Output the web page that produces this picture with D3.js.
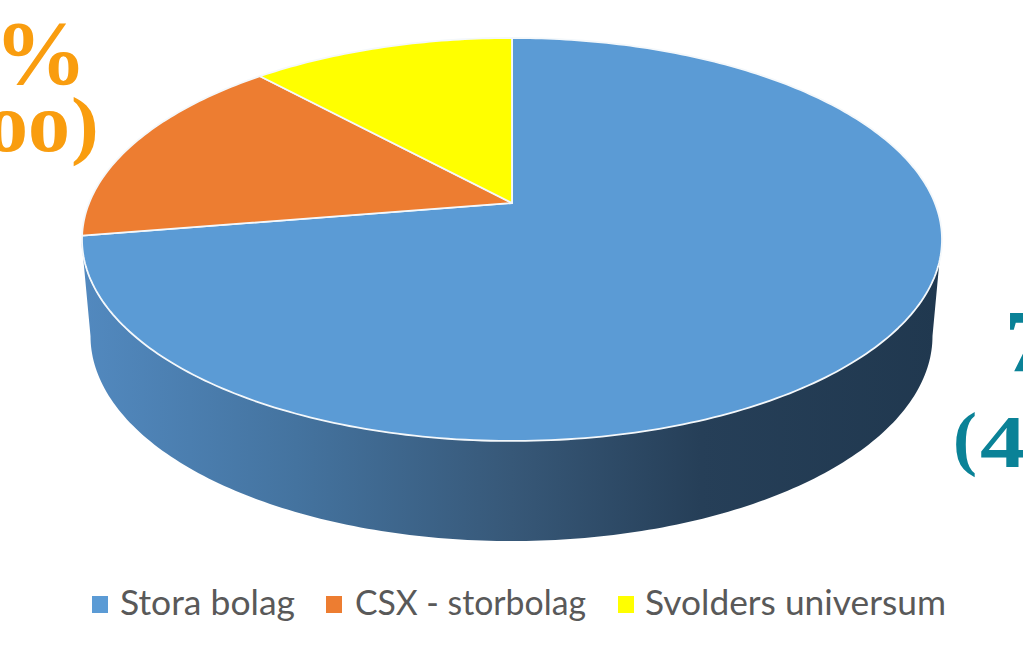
<!DOCTYPE html>
<html><head><meta charset="utf-8">
<style>html,body{margin:0;padding:0;background:#fff;overflow:hidden}svg{display:block}</style>
<script src="https://cdn.jsdelivr.net/npm/d3@7"></script></head>
<body><svg id="c" width="1023" height="655"></svg>
<script>
const categories = ["Stora bolag","CSX - storbolag","Svolders universum"];
const shares = [72.4,15.8,11.8];
const colours = ["#5B9BD5","#ED7D31","#FFFF00"];
const leftLabels = ["6%","oo",")"];
const rightLabels = ["7","(","4"];

const svg = d3.select("#c");
const apex={x:512,y:203},a=422.9,b=194.9,k=0.181;
const project=t=>{const u=Math.sin(t),v=Math.cos(t),w=1+k*v;return [apex.x+a*u/w,apex.y-b*v/w];};
const arcs=d3.pie().sort(null).value(d=>d)(shares);
const line=d3.line();
const slicePath=d=>{
  const n=Math.max(8,Math.ceil((d.endAngle-d.startAngle)*60));
  const ts=d3.range(n+1).map(i=>d.startAngle+(d.endAngle-d.startAngle)*i/n);
  return line([[apex.x,apex.y],...ts.map(project)])+"Z";
};
const defs=svg.append("defs");
const g=defs.append("linearGradient").attr("id","wall").attr("gradientUnits","userSpaceOnUse")
 .attr("x1",82).attr("x2",941).attr("y1",0).attr("y2",0);
[[0,"#5289BF"],[0.25,"#44739F"],[0.5,"#375878"],[0.72,"#263F58"],[1,"#20384F"]].forEach(s=>g.append("stop").attr("offset",s[0]).attr("stop-color",s[1]));
const top0={cx:511.5,cy:239.5,rx:430,ry:201.5}, low={cx:511.5,cy:336,rx:421,ry:205};
const ell=(e,t)=>[e.cx+e.rx*Math.cos(t),e.cy+e.ry*Math.sin(t)];
const steps=d3.range(0,181).map(i=>i*Math.PI/180);
const wall=[...steps.map(t=>ell(top0,t)),...steps.slice().reverse().map(t=>ell(low,t))];
svg.append("path").attr("d",line(wall)+"Z").attr("fill","url(#wall)");
svg.append("g").selectAll("path").data(arcs).join("path")
 .attr("d",slicePath).attr("fill",(d,i)=>colours[i])
 .attr("stroke","#F4F8FB").attr("stroke-width",1.8).attr("stroke-linejoin","round");

const label=(txt,x,y,size,fill,anchor,sx)=>svg.append("text")
 .attr("transform",`translate(${x},${y}) scale(${sx||1},1)`).attr("text-anchor",anchor||"start")
 .attr("font-family",'"Liberation Serif",serif').attr("font-weight",700).attr("font-size",size).attr("fill",fill).text(txt);
label(leftLabels[0],87,84,90,"#F99D0F","end",1.03);
label(leftLabels[1],70,151,84,"#F99D0F","end");
label(leftLabels[2],71,150,76,"#F99D0F","start",1.1);
label(rightLabels[0],1005,371,88,"#0A8297");
label(rightLabels[1],953,462,72,"#0A8297");
label(rightLabels[2],980,467,74,"#0A8297","start",1.25);

const lx=[{s:92,t:120,w:175},{s:326,t:355,w:231},{s:618,t:645,w:301}];
const lg=svg.append("g").selectAll("g").data(categories).join("g");
lg.append("rect").attr("x",(d,i)=>lx[i].s).attr("y",596).attr("width",16).attr("height",17).attr("fill",(d,i)=>colours[i]);
lg.append("text").attr("x",(d,i)=>lx[i].t).attr("y",615).attr("font-family","Lato,sans-serif").attr("font-size",34).attr("fill","#595959")
 .attr("textLength",(d,i)=>lx[i].w).attr("lengthAdjust","spacingAndGlyphs").text(d=>d);
</script></body></html>
